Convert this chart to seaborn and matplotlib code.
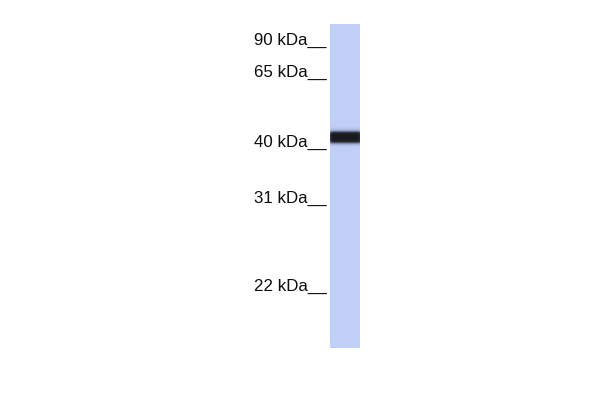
import numpy as np
import matplotlib
matplotlib.use("Agg")
import matplotlib.pyplot as plt
import seaborn as sns
from matplotlib.colors import LinearSegmentedColormap

# marker ladder (kDa) and label baseline rows (px from top)
marker_kda = [90, 65, 40, 31, 22]
marker_row = [45, 77, 147, 203, 291]

lane_top, lane_bottom = 24, 348
band_rows = [127, 128, 129, 130, 131, 132, 133, 134, 135, 136, 137, 138,
             139, 140, 141, 142, 143, 144, 145, 146, 147]
band_signal = [0.03, 0.06, 0.12, 0.25, 0.45, 0.7, 0.88, 0.97, 1.0, 1.0, 1.0, 1.0,
               0.98, 0.93, 0.8, 0.6, 0.35, 0.17, 0.07, 0.03, 0.0]
# signal across the lane width (left -> right)
band_across = [0.7, 0.85, 0.95, 1, 1, 1, 1, 1, 1, 1,
               1, 1, 1, 1, 1, 1, 1, 1, 1, 1,
               1, 1, 1, 1, 1, 1, 1, 0.97, 0.92, 0.85]

sns.set_theme(style="white")
plt.rcParams["font.family"] = ["Liberation Sans", "DejaVu Sans"]

fig = plt.figure(figsize=(6, 4), dpi=100)
fig.patch.set_facecolor("white")

# text layer in pixel coordinates
ax = fig.add_axes([0, 0, 1, 1])
ax.set_xlim(0, 600)
ax.set_ylim(400, 0)
ax.axis("off")
for kda, row in zip(marker_kda, marker_row):
    ax.text(327, row, f"{kda} kDa__", ha="right", va="baseline",
            fontsize=12.2, color="#0d0d0d")

# lane as a heatmap
n_rows = lane_bottom - lane_top
lane = np.zeros((n_rows, len(band_across)))
rows = np.array(band_rows) - lane_top
lane[rows, :] = np.outer(band_signal, band_across)

blot_cmap = LinearSegmentedColormap.from_list(
    "blot", [(0.0, "#c0cff5"), (0.35, "#7f8ab2"), (0.7, "#33363f"), (1.0, "#18181e")])

lane_ax = fig.add_axes([330 / 600, 1 - lane_bottom / 400, 30 / 600, n_rows / 400])
sns.heatmap(lane, ax=lane_ax, cmap=blot_cmap, vmin=0, vmax=1, cbar=False,
            xticklabels=False, yticklabels=False)
lane_ax.axis("off")

fig.savefig("out.png", dpi=100)
